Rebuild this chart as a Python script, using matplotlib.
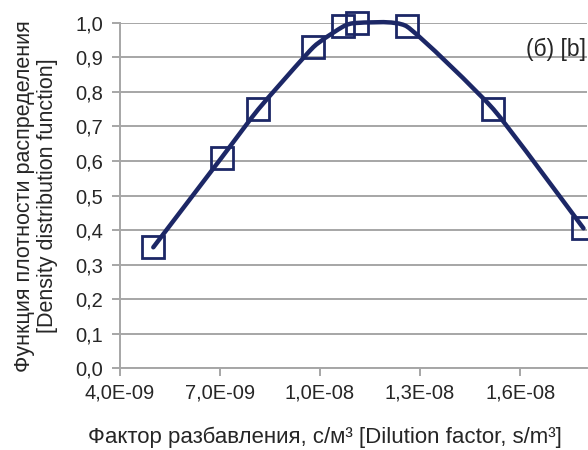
import numpy as np
import matplotlib
matplotlib.use("Agg")
import matplotlib.pyplot as plt
from matplotlib.path import Path
from matplotlib.patches import PathPatch
from matplotlib.ticker import FuncFormatter, MultipleLocator

# dilution factor, s/m3  vs  density distribution function
dilution = [5.0e-9, 7.05e-9, 8.15e-9, 9.8e-9, 1.07e-8, 1.11e-8, 1.26e-8, 1.52e-8, 1.79e-8]
density = [0.35, 0.61, 0.75, 0.93, 0.99, 1.00, 0.99, 0.75, 0.405]

xticks = [4.0e-9, 7.0e-9, 1.0e-8, 1.3e-8, 1.6e-8]

navy = "#1c2766"
grid = "#a6a6a6"
txt = "#262626"

plt.rcParams['font.family'] = ['Liberation Sans', 'DejaVu Sans']


def smooth_path(x, y, t=0.08):
    # excel-like smoothed line: bezier with catmull-rom control points
    x = np.asarray(x); y = np.asarray(y)
    verts = [(x[0], y[0])]
    codes = [Path.MOVETO]
    n = len(x)
    for i in range(n - 1):
        p0 = (x[max(i-1, 0)], y[max(i-1, 0)])
        p1 = (x[i], y[i])
        p2 = (x[i+1], y[i+1])
        p3 = (x[min(i+2, n-1)], y[min(i+2, n-1)])
        c1 = (p1[0] + (p2[0]-p0[0])*t, p1[1] + (p2[1]-p0[1])*t)
        c2 = (p2[0] - (p3[0]-p1[0])*t, p2[1] - (p3[1]-p1[1])*t)
        verts += [c1, c2, p2]
        codes += [Path.CURVE4]*3
    return Path(verts, codes)


fig = plt.figure(figsize=(5.88, 4.5), dpi=100)
ax = fig.add_axes([0.204, 0.182, 0.794, 0.767])

ax.set_xlim(4.0e-9, 1.8e-8)
ax.set_ylim(0, 1.0)

ax.add_patch(PathPatch(smooth_path(dilution, density), fill=False,
                       edgecolor=navy, lw=3.2, capstyle='round', zorder=3, clip_on=False))
ax.plot(dilution, density, ls='none', marker='s', ms=16, mfc='none',
        mec=navy, mew=2.0, zorder=4, clip_on=False)

ax.yaxis.set_major_locator(MultipleLocator(0.1))
ax.set_xticks(xticks)
ax.yaxis.set_major_formatter(FuncFormatter(lambda v, p: f"{v:.1f}".replace('.', ',')))
ax.xaxis.set_major_formatter(FuncFormatter(lambda v, p: f"{v:.1E}".replace('.', ',')))

ax.grid(axis='y', color=grid, lw=1.4)
ax.set_axisbelow(True)
for s in ['top', 'right']:
    ax.spines[s].set_visible(False)
for s in ['left', 'bottom']:
    ax.spines[s].set_color(grid)
    ax.spines[s].set_linewidth(1.4)
ax.tick_params(colors=grid, width=1.4, length=6, labelcolor=txt, labelsize=14.5)
ax.tick_params(axis='y', pad=6)
ax.tick_params(axis='x', pad=5)

fig.text(0.553, 1 - 437/450, "Фактор разбавления, с/м³ [Dilution factor, s/m³]",
         ha='center', va='center', fontsize=16, color=txt)
fig.text(36/588, 1 - 196/450,
         "Функция плотности распределения\n[Density distribution function]",
         ha='center', va='center', rotation=90, fontsize=15.5, color=txt,
         linespacing=1.15, multialignment='center')

fig.text(0.997, 1 - 49/450, "(б) [b]", ha='right', va='center', fontsize=16.5, color=txt)

fig.savefig("out.png", dpi=100)
